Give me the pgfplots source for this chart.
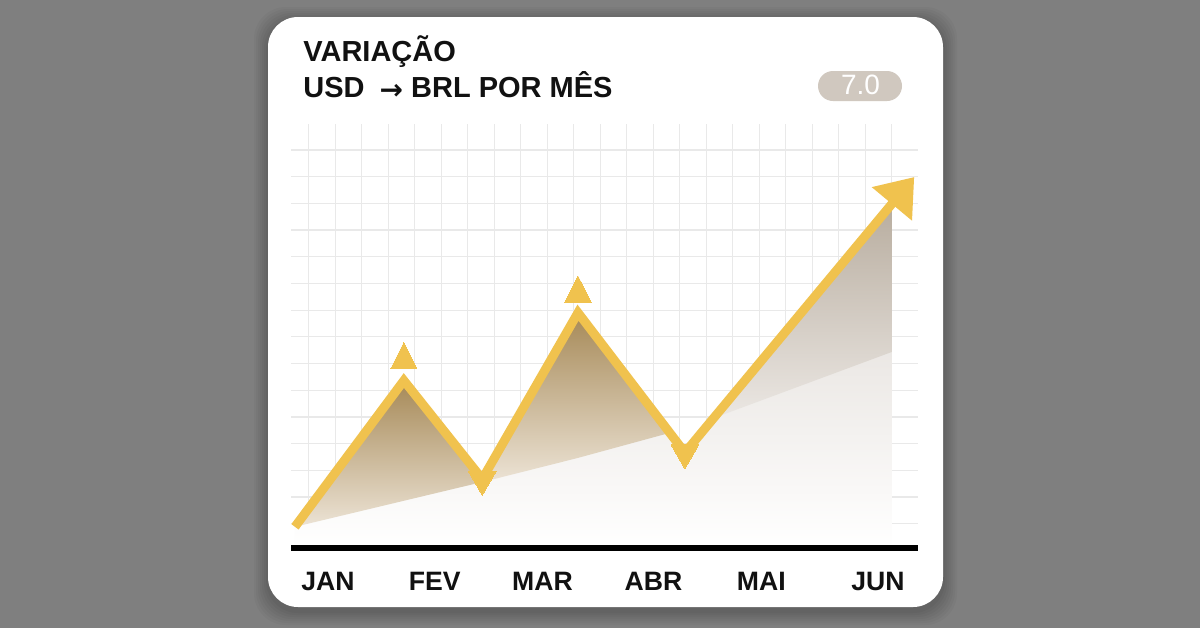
\documentclass[border=0pt]{standalone}
\usepackage{fontspec}
\setmainfont{Liberation Sans}
\newfontfamily\symfont{DejaVu Sans}
\usepackage{pgfplots}
\pgfplotsset{compat=1.18}
\usetikzlibrary{arrows.meta}

\definecolor{bggray}{HTML}{7F7F7F}
\definecolor{gold}{HTML}{F0C24E}
\definecolor{gridgray}{HTML}{E9E9E9}
\definecolor{badge}{HTML}{D0C8BF}
\definecolor{ink}{HTML}{111111}
\definecolor{peaktop}{HTML}{A68957}
\definecolor{peakbot}{HTML}{ECE3D5}
\definecolor{risetop}{HTML}{B8AD9F}
\definecolor{risebot}{HTML}{EBE7E3}
\definecolor{basetop}{HTML}{DCD6D0}

\begin{document}
\begin{tikzpicture}
% card and titles, in pixel units of the 1200x628 picture
\begin{scope}[x=0.5pt,y=-0.5pt]
  \fill[bggray] (0,0) rectangle (1200,628);
  \foreach \s in {14,12,10,8,6,4,2} {
    \fill[black, opacity=0.03, rounded corners=16pt]
      (268-\s,17-\s+4) rectangle (943+\s,607+\s+4);
  }
  \fill[white, rounded corners=15pt] (268,17) rectangle (943,607);
  \node[anchor=base west, inner sep=0, text=ink,
        font=\bfseries\fontsize{14.5}{17}\selectfont] at (303,61.7) {VARIAÇÃO};
  \node[anchor=base west, inner sep=0, text=ink,
        font=\bfseries\fontsize{14.5}{17}\selectfont] at (303,97.7)
        {USD\hspace{7.5pt}\raisebox{-0.8pt}{\symfont\fontsize{14}{16}\selectfont →} BRL POR MÊS};
  \fill[badge, rounded corners=7.5pt] (818,71) rectangle (902,101);
  \node[anchor=base, inner sep=0, text=white,
        font=\fontsize{14}{16}\selectfont] at (860.5,94.3) {7.0};
\end{scope}

\begin{axis}[
  at={(145.5pt,-274pt)}, anchor=south west,
  scale only axis, width=313.5pt, height=212pt,
  xmin=-0.336, xmax=5.364, ymin=0, ymax=8,
  axis line style={draw=none},
  major tick length=0pt, minor tick length=0pt,
  xtick={0,0.97,1.95,2.96,3.94,5.0},
  xticklabels={JAN,FEV,MAR,ABR,MAI,JUN},
  xticklabel style={anchor=base, yshift=-21.35pt, text=ink,
                    font=\bfseries\fontsize{13.3}{15}\selectfont},
  ytick={0.4568,0.9606,...,7.6},
  yticklabels={},
  minor xtick={-0.1755,0.0654,...,5.2},
  ymajorgrids=true, xminorgrids=true,
  major grid style={gridgray, line width=0.6pt},
  minor grid style={gridgray, line width=0.6pt},
  clip=false,
]
% soft area under the whole line
\addplot[draw=none, top color=basetop, bottom color=white] coordinates {
  (-0.30,0) (-0.30,0.40) (0.69,3.16) (1.403,1.30) (2.273,4.44)
  (3.245,1.80) (5.127,6.494) (5.127,0)
} -- cycle;
% darker peaks above the diagonal
\addplot[draw=none, top color=peaktop, bottom color=peakbot] coordinates {
  (-0.30,0.40) (0.69,3.16) (1.403,1.30) (1.403,1.245)
} -- cycle;
\addplot[draw=none, top color=peaktop, bottom color=peakbot] coordinates {
  (1.403,1.30) (2.273,4.44) (3.108,2.173) (2.273,1.70) (1.403,1.245)
} -- cycle;
\addplot[draw=none, top color=risetop, bottom color=risebot] coordinates {
  (3.506,2.451) (5.127,6.494) (5.127,3.70)
} -- cycle;
% the rate line
\addplot[gold, line width=4.5pt, line join=miter,
         -{Triangle[length=17.5pt,width=25pt]}] coordinates {
  (-0.30,0.40) (0.69,3.16) (1.403,1.30) (2.273,4.44) (3.245,1.80) (5.33,7.00)
};
% peak markers
\addplot[gold, only marks, mark=triangle*, mark size=8.67pt,
         mark options={solid, draw=gold, line width=0pt, fill=gold, xscale=0.87}] coordinates {
  (0.69,3.547) (2.273,4.805)
};
% trough markers
\addplot[gold, only marks, mark=triangle*, mark size=8pt,
         mark options={solid, draw=gold, line width=0pt, fill=gold, rotate=180}] coordinates {
  (1.403,1.30) (3.245,1.80)
};
\draw[black, line width=3.4pt] (axis cs:-0.336,0) -- (axis cs:5.364,0);
\end{axis}
\end{tikzpicture}
\end{document}
